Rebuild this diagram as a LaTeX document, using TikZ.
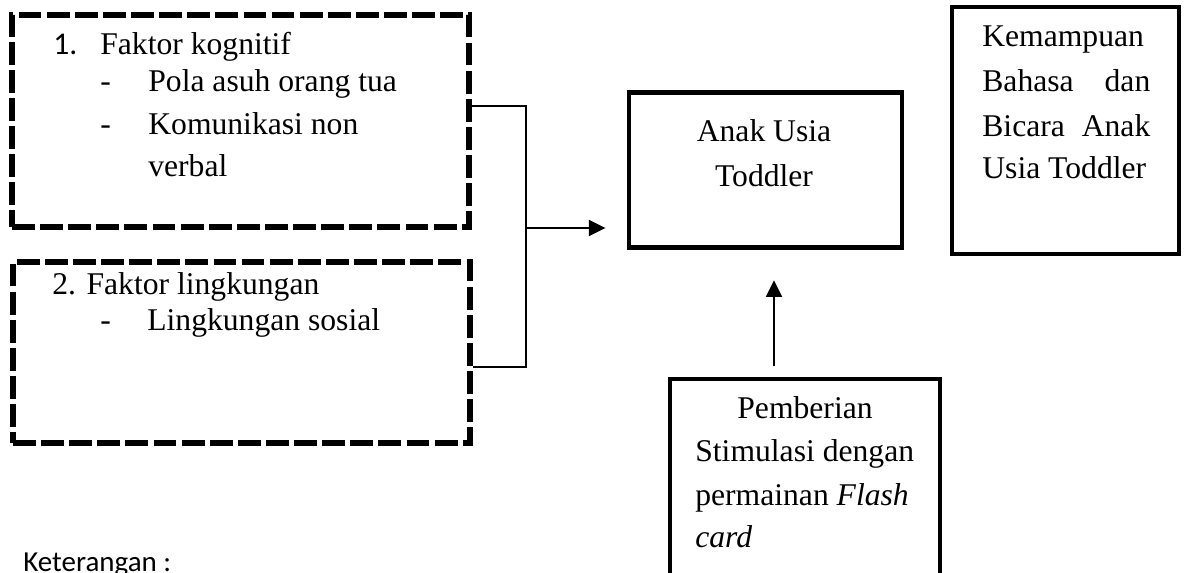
\documentclass[tikz,border=0pt]{standalone}
\usepackage{fontspec}
\setmainfont{Liberation Serif}
\newfontfamily\calibri{Carlito}
\usetikzlibrary{arrows.meta, backgrounds}

\begin{document}
\begin{tikzpicture}[
    x=0.02cm, y=-0.02cm,
    background rectangle/.style={fill=white},
    show background rectangle, inner frame sep=0pt,
    dashbox/.style={draw, line width=3.2pt, dash pattern=on 13pt off 3pt, inner sep=0pt},
    solidbox/.style={draw, line width=2.8pt, inner sep=0pt},
    txt/.style={font=\fontsize{18}{22}\selectfont, inner sep=0pt, anchor=base west},
    ctxt/.style={font=\fontsize{18}{22}\selectfont, inner sep=0pt, anchor=base},
    arrowline/.style={line width=1.2pt, -{Triangle[length=9.5pt, width=9pt]}}]
    \useasboundingbox (0,0) rectangle (1189,573);
    \clip (0,0) rectangle (1189,573);

    % The two dashed factor boxes
    \node[dashbox, minimum width=9.14cm, minimum height=4.24cm] (kognitif) at (240.5,121) {};
    \node[dashbox, minimum width=9.14cm, minimum height=3.62cm] (lingkungan) at (241.5,352.5) {};

    % The solid boxes
    \node[solidbox, minimum width=5.46cm, minimum height=3.11cm] (anak) at (765.5,170) {};
    \node[solidbox, minimum width=4.54cm, minimum height=4.94cm] (kemampuan) at (1065.5,130.5) {};
    \node[solidbox, minimum width=5.4cm, minimum height=4.82cm] (pemberian) at (805,499.5) {};

    % Texts of the first factor
    \node[txt, font=\calibri\fontsize{18}{22}\selectfont] (n1) at (53,55) {1.};
    \node[txt] (k1) at (100,55) {Faktor kognitif};
    \node[txt] (d1) at (100,92) {-};
    \node[txt] (k2) at (148,92) {Pola asuh orang tua};
    \node[txt] (d2) at (100,135) {-};
    \node[txt] (k3) at (148,135) {Komunikasi non};
    \node[txt] (k4) at (148,177) {verbal};

    % Texts of the second factor
    \node[txt] (l1) at (52,295) {2. Faktor lingkungan};
    \node[txt] (d3) at (100,331) {-};
    \node[txt] (l2) at (147,331) {Lingkungan sosial};

    % Texts of the solid boxes
    \node[ctxt] (a1) at (764,142) {Anak Usia};
    \node[ctxt] (a2) at (764,187) {Toddler};
    \node[txt] (b1) at (982,47) {Kemampuan};
    \node[txt] (b2) at (982,92) {\makebox[3.36cm][s]{Bahasa dan}};
    \node[txt] (b3) at (982,137) {\makebox[3.36cm][s]{Bicara Anak}};
    \node[txt] (b4) at (982,179) {Usia Toddler};
    \node[ctxt] (p1) at (805,419) {Pemberian};
    \node[txt] (p2) at (695,462) {Stimulasi dengan};
    \node[txt] (p3) at (695,505) {permainan \textit{Flash}};
    \node[txt] (p4) at (695,547) {\textit{card}};

    % Legend
    \node[txt, font=\calibri\fontsize{16.5}{20}\selectfont] (ket) at (23,571) {Keterangan :};

    % Connectors
    \coordinate (junction) at (526,228);
    \draw[line width=0.8pt] (kognitif.east |- 0,106) -| (junction) |- (lingkungan.east |- 0,367);
    \draw[arrowline, shorten >=0.42cm] (junction) -- (anak.west |- junction);
    \draw[arrowline, line width=1.4pt, shorten <=0.22cm, shorten >=0.6cm]
        (pemberian.north -| 774,0) -- (anak.south -| 774,0);
\end{tikzpicture}
\end{document}
